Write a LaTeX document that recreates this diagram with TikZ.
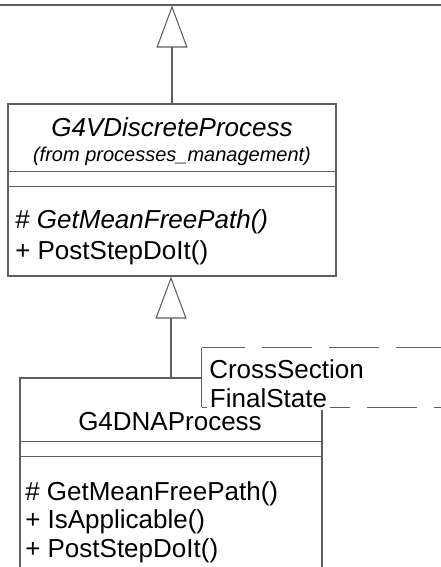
\documentclass[tikz,border=0pt]{standalone}
\usepackage{fontspec}
\setmainfont{Liberation Sans}
\usetikzlibrary{positioning,arrows.meta}
\definecolor{umlgray}{RGB}{95,95,95}

\begin{document}
\begin{tikzpicture}[x=0.75pt, y=-0.75pt,
classbox/.style={rectangle, draw=umlgray, line width=0.8pt, fill=white, inner sep=0pt},
parambox/.style={rectangle, fill=white, inner sep=0pt},
sepline/.style={draw=umlgray, line width=0.8pt},
txt/.style={inner sep=0pt, font=\fontsize{19.5}{23}\selectfont},
smalltxt/.style={inner sep=0pt, font=\fontsize{15}{18}\selectfont\itshape},
gen/.style={draw=umlgray, line width=0.8pt, -{Triangle[open, length=31.5pt, width=23.25pt]}}
]
\clip (0,0) rectangle (441,567);

% parent class, only its bottom edge is in view
\node[classbox, minimum width=352.5pt, minimum height=157.5pt] (base) at (220,-100) {};

\node[classbox, minimum width=246pt, minimum height=129pt] (discrete) at (172,190) {};
\node[txt, anchor=base] (discreteName) at (172,136) {\itshape G4VDiscreteProcess};
\node[smalltxt, anchor=base] (discreteFrom) at (172,161) {(from processes\_management)};
\draw[sepline] ([yshift=-51pt]discrete.north west) -- ([yshift=-51pt]discrete.north east);
\draw[sepline] ([yshift=-62.25pt]discrete.north west) -- ([yshift=-62.25pt]discrete.north east);
\node[txt, anchor=base west] (discreteOpA) at (15,228) {\# \textit{GetMeanFreePath()}};
\node[txt, anchor=base west] (discreteOpB) at (15,259) {+ PostStepDoIt()};

\node[classbox, minimum width=226.5pt, minimum height=151.5pt] (dna) at (171,479) {};
\node[txt, anchor=base] (dnaName) at (170,430) {G4DNAProcess};
\draw[sepline] ([yshift=-48pt]dna.north west) -- ([yshift=-48pt]dna.north east);
\draw[sepline] ([yshift=-59.25pt]dna.north west) -- ([yshift=-59.25pt]dna.north east);
\node[txt, anchor=base west] (dnaOpA) at (25,500) {\# GetMeanFreePath()};
\node[txt, anchor=base west] (dnaOpB) at (25,528) {+ IsApplicable()};
\node[txt, anchor=base west] (dnaOpC) at (25,557) {+ PostStepDoIt()};

% template parameters
\node[parambox, minimum width=193.5pt, minimum height=44.25pt] (params) at (331,377.5) {};
\draw[sepline] (params.north west) -- (params.south west);
\draw[sepline, dash pattern=on 37.5pt off 12.75pt, dash phase=5.25pt] (params.north west) -- (params.north east);
\draw[sepline, dash pattern=on 37.5pt off 12.75pt, dash phase=27pt] (params.south west) -- (params.south east);
\node[txt, anchor=base west] (paramA) at (209,378) {CrossSection};
\node[txt, anchor=base west, fill=white, inner xsep=2pt, inner ysep=2pt] (paramB) at (207,407) {FinalState};

\draw[gen] (discrete.north) -- (discrete.north |- base.south);
\draw[gen] (dna.north) -- (dna.north |- discrete.south);
\end{tikzpicture}
\end{document}
